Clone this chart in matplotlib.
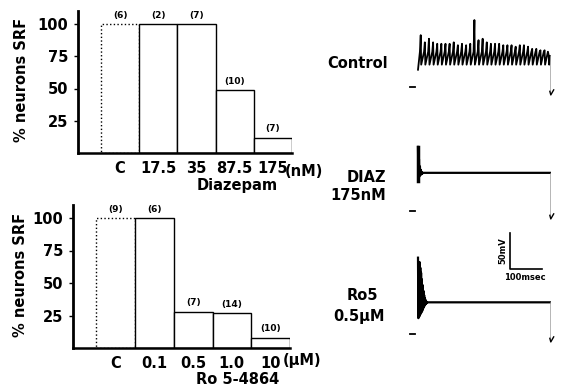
import numpy as np
import matplotlib
matplotlib.use("Agg")
import matplotlib.pyplot as plt

plt.rcParams['font.family'] = ['DejaVu Sans']
plt.rcParams['font.weight'] = 'bold'

W, H = 562, 388

# bar chart data
diaz_doses = ['C', '17.5', '35', '87.5', '175']
diaz_pct = [100, 100, 100, 49, 12]
diaz_n = ['(6)', '(2)', '(7)', '(10)', '(7)']

ro5_doses = ['C', '0.1', '0.5', '1.0', '10']
ro5_pct = [100, 100, 28, 27, 8]
ro5_n = ['(9)', '(6)', '(7)', '(14)', '(10)']

pct_ticks = [25, 50, 75, 100]

# traces, mV above resting level, time in ms from pulse onset
pulse_ms = 412
ctrl_peak = [72, 62, 67, 62, 60, 60, 60, 60, 62, 58, 60, 58, 60, 93, 65, 67,
             62, 60, 60, 60, 58, 58, 58, 56, 58, 58, 56, 53, 53, 51, 51, 44]
ctrl_thresh = 49
ctrl_ahp = 31
diaz_onset = [89, 46, 72, 48, 62, 50, 57, 51, 54, 52, 53]
diaz_plateau = 53
ro5_burst = [106, 22, 98, 24, 100, 26, 92, 28, 85, 30, 76, 32, 68, 35, 60, 37,
             54, 39, 50, 41, 47, 42, 45, 43, 44]
ro5_plateau = 44


def fx(x):
    return x / W


def fy(y):
    return (H - y) / H


fig = plt.figure(figsize=(W / 100, H / 100), dpi=100)


def bar_panel(left, right, base, top100, doses, pct, ns):
    unit = (base - top100) / 100.0
    ax = fig.add_axes([fx(left), fy(base), fx(right - left), 110 * unit / H])
    x = np.arange(len(doses))
    bars = ax.bar(x, pct, width=1.0, color='white', edgecolor='black', linewidth=1.0)
    bars[0].set_linestyle(':')
    for xi, p, n in zip(x, pct, ns):
        ax.annotate(n, (xi, p), xytext=(0, 3), textcoords='offset points',
                    ha='center', va='bottom', fontsize=6.5)
    ax.set_ylim(0, 110)
    ax.set_xlim(-1.1, 4.5)
    ax.set_yticks(pct_ticks)
    ax.set_xticks(x)
    ax.set_xticklabels(doses)
    ax.tick_params(axis='y', direction='out', length=3, width=1, labelsize=10.5, pad=4)
    ax.tick_params(axis='x', length=0, labelsize=10.5, pad=6)
    for s in ['top', 'right']:
        ax.spines[s].set_visible(False)
    ax.spines['left'].set_linewidth(2)
    ax.spines['bottom'].set_linewidth(1.8)
    ax.set_facecolor('none')
    return ax


ax1 = bar_panel(78, 292, 153, 24, diaz_doses, diaz_pct, diaz_n)
ax2 = bar_panel(73, 290, 348, 218, ro5_doses, ro5_pct, ro5_n)

fig.text(fx(22), fy(80), '% neurons SRF', rotation=90, ha='center', va='center', fontsize=10.5)
fig.text(fx(21), fy(275), '% neurons SRF', rotation=90, ha='center', va='center', fontsize=10.5)
fig.text(fx(304), fy(172), '(nM)', ha='center', va='center', fontsize=10.5)
fig.text(fx(302), fy(361), '(\u00b5M)', ha='center', va='center', fontsize=10.5)
fig.text(fx(237), fy(186), 'Diazepam', ha='center', va='center', fontsize=10.5)
fig.text(fx(238), fy(379), 'Ro 5-4864', ha='center', va='center', fontsize=10.5)

fig.text(fx(388), fy(63), 'Control', ha='right', va='center', fontsize=10.5)
fig.text(fx(386), fy(177), 'DIAZ', ha='right', va='center', fontsize=10.5)
fig.text(fx(386), fy(195), '175nM', ha='right', va='center', fontsize=10.5)
fig.text(fx(362), fy(295), 'Ro5', ha='center', va='center', fontsize=10.5)
fig.text(fx(359), fy(317), '0.5\u00b5M', ha='center', va='center', fontsize=10.5)

# trace axes: 0.32 px per ms, 0.72 px per mV
px_ms = 0.32
px_mv = 36 / 50.0
onset_px = 418


def trace_axes(rest_px):
    ax = fig.add_axes([fx(400), fy(rest_px + 40), fx(160), 150 / H])
    ax.set_xlim((400 - onset_px) / px_ms, (560 - onset_px) / px_ms)
    ax.set_ylim(-40 / px_mv, 110 / px_mv)
    ax.axis('off')
    return ax


def pre_post(ax, level):
    ax.plot([-25, -8], [0, 0], color='black', lw=1.3)
    ax.plot([pulse_ms, pulse_ms], [level, -6], color='0.6', lw=0.5)
    ax.plot([pulse_ms, pulse_ms + 3, pulse_ms + 12], [-6, -11, -4], color='black', lw=1.0)


# control: repetitive firing
axc = trace_axes(87)
n = len(ctrl_peak)
isi = (pulse_ms - 12) / (n - 1)
t = [0]
v = [24]
for i, pk in enumerate(ctrl_peak):
    ti = 6 + i * isi
    t += [ti, ti + 2.5, ti + 4]
    v += [ctrl_thresh, pk, ctrl_ahp]
t += [pulse_ms]
v += [ctrl_thresh - 6]
axc.plot(t, v, color='black', lw=1.3)
pre_post(axc, ctrl_thresh - 6)

# diazepam: single spike then silent
axd = trace_axes(211)
td = list(np.arange(len(diaz_onset)) * 1.5)
axd.plot(td + [pulse_ms], diaz_onset + [diaz_plateau], color='black', lw=1.6)
axd.plot([0.3, 0.3], [diaz_onset[1] - 4, diaz_onset[0]], color='black', lw=2.5)
pre_post(axd, diaz_plateau)

# Ro5: brief burst then silent
axr = trace_axes(334)
tr = list(np.arange(len(ro5_burst)) * 1.2)
axr.plot(tr + [pulse_ms], ro5_burst + [ro5_plateau], color='black', lw=1.6)
pre_post(axr, ro5_plateau)

# scale bar
sb_t = (510 - onset_px) / px_ms
sb_v = (334 - 269) / px_mv
axr.plot([sb_t, sb_t, sb_t + 100], [sb_v + 50, sb_v, sb_v], color='black', lw=1.2)
axr.text(sb_t - 8, sb_v + 25, '50mV', rotation=90, ha='right', va='center', fontsize=6)
axr.text(sb_t + 45, sb_v - 6, '100msec', ha='center', va='top', fontsize=6)

fig.savefig('out.png', dpi=100)
